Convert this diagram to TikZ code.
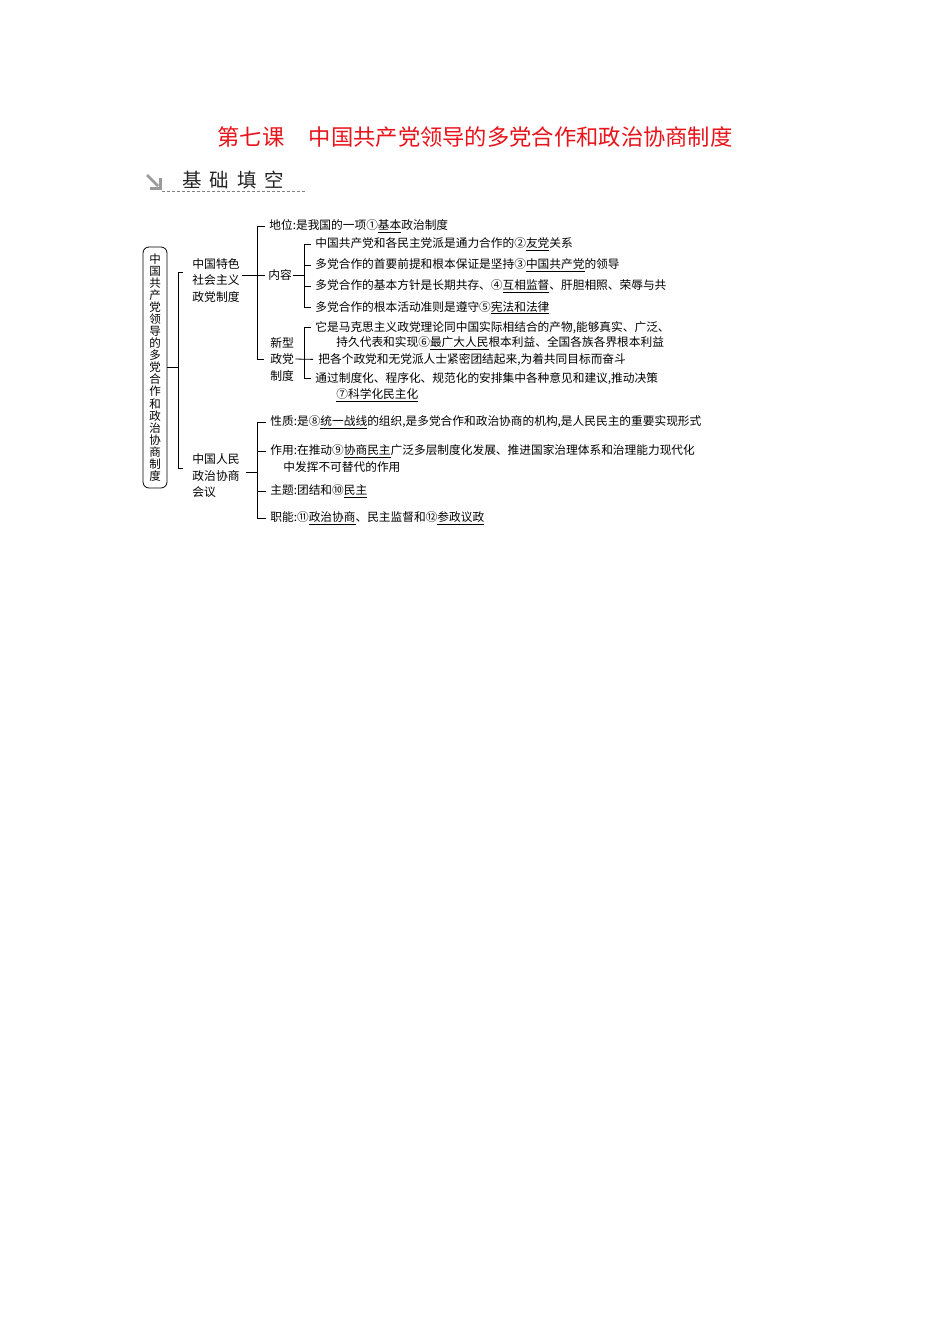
\documentclass[tikz,border=0pt]{standalone}
\usepackage{fontspec}
\setmainfont{Noto Sans CJK SC}
\definecolor{titlered}{HTML}{E8141B}
\definecolor{icongray}{HTML}{9A9A9A}
\newcommand{\uln}[1]{\underline{#1}}
\begin{document}
\begin{tikzpicture}[x=1pt,y=-1pt, line width=0.8pt,
  txt/.style={anchor=west, inner sep=0pt, yshift=-1.5pt, font=\fontsize{11.7}{14}\selectfont},
  blk/.style={anchor=west, inner sep=0pt, yshift=-1pt, align=left, font=\fontsize{11.8}{16.5}\selectfont}]
\useasboundingbox (0,0) rectangle (950,1344);
\fill[white] (0,0) rectangle (950,1344);

% title
\node[inner sep=0pt, text=titlered, font=\fontsize{22.3}{26}\selectfont] (title) at (475,137)
  {第七课\hspace{1.1em}中国共产党领导的多党合作和政治协商制度};

% heading
\node[anchor=west, inner sep=0pt, text=black!85, font=\fontsize{19.5}{22}\selectfont] (head) at (182,180)
  {基\hspace{8pt}础\hspace{8pt}填\hspace{8pt}空};
\draw[icongray, line width=2.6pt] (147,175) -- (158,186);
\draw[icongray, line width=2.6pt] (150,188.5) -- (160.5,188.5) -- (160.5,178);
\draw[gray, line width=0.6pt, dash pattern=on 3pt off 2pt] (162,191) -- (306,191);

% root
\node[draw, rounded corners=6pt, minimum width=24pt, minimum height=241pt, inner sep=0pt,
  align=center, font=\fontsize{11.5}{12.06}\selectfont] (root) at (155,367.5)
  {中\\国\\共\\产\\党\\领\\导\\的\\多\\党\\合\\作\\和\\政\\治\\协\\商\\制\\度};

% level 1
\node[blk] (n1) at (192,279.5) {中国特色\\社会主义\\政党制度};
\node[blk] (n2) at (192,475) {中国人民\\政治协商\\会议};
\coordinate (v1) at (178,0);
\draw (root.east) -- (root.east -| v1);
\draw (183,272) -- (178,272) -- (178,468) -- (183,468);

% level 2 (party system)
\node[txt] (dw) at (269,225) {地位:是我国的一项①\uln{基本}政治制度};
\node[txt] (nr) at (268,274) {内容};
\node[blk] (n3) at (270,358) {新型\\政党\\制度};
\draw ([xshift=-4pt]dw.west) -- ++(-8,0) |- ([xshift=-6pt]n3.west);
\draw[shorten <=2pt, shorten >=3pt] (n1.east |- nr.west) -- (nr.west);

% content items
\node[txt] (c1) at (315,243) {中国共产党和各民主党派是通力合作的②\uln{友党}关系};
\node[txt] (c2) at (315,264) {多党合作的首要前提和根本保证是坚持③\uln{中国共产党}的领导};
\node[txt] (c3) at (315,285) {多党合作的基本方针是长期共存、④\uln{互相监督}、肝胆相照、荣辱与共};
\node[txt] (c4) at (315,306) {多党合作的根本活动准则是遵守⑤\uln{宪法和法律}};
\coordinate (v2) at (304,0);
\draw ([xshift=-4pt]c1.west) -- (c1.west -| v2) -- (c4.west -| v2) -- ([xshift=-4pt]c4.west);
\draw ([xshift=-4pt]c2.west) -- (c2.west -| v2);
\draw ([xshift=-4pt]c3.west) -- (c3.west -| v2);
\draw[shorten <=1pt] (nr.east) -- (nr.east -| v2);

% new type items
\node[txt] (d1) at (315,326) {它是马克思主义政党理论同中国实际相结合的产物,能够真实、广泛、};
\node[txt] (d2) at (336,342) {持久代表和实现⑥\uln{最广大人民}根本利益、全国各族各界根本利益};
\node[txt] (d3) at (318,358) {把各个政党和无党派人士紧密团结起来,为着共同目标而奋斗};
\node[txt] (d4) at (315,377) {通过制度化、程序化、规范化的安排集中各种意见和建议,推动决策};
\node[txt] (d5) at (336,394) {\uln{⑦科学化民主化}};
\draw ([xshift=-4pt]d1.west) -- (d1.west -| v2) -- (d4.west -| v2) -- ([xshift=-4pt]d4.west);
\draw[shorten <=1pt, shorten >=5pt] (n3.east) -- (d3.west);

% CPPCC items
\node[txt] (e1) at (270,421) {性质:是⑧\uln{统一战线}的组织,是多党合作和政治协商的机构,是人民民主的重要实现形式};
\node[txt] (e2) at (270,450) {作用:在推动⑨\uln{协商民主}广泛多层制度化发展、推进国家治理体系和治理能力现代化};
\node[txt] (e3) at (283,466) {中发挥不可替代的作用};
\node[txt] (e4) at (270,490) {主题:团结和⑩\uln{民主}};
\node[txt] (e5) at (270,517) {职能:⑪\uln{政治协商}、民主监督和⑫\uln{参政议政}};
\coordinate (v3) at (257,0);
\draw ([xshift=-4pt]e1.west) -- (e1.west -| v3) -- (e5.west -| v3) -- ([xshift=-4pt]e5.west);
\draw ([xshift=-4pt]e2.west) -- (e2.west -| v3);
\draw ([xshift=-4pt]e4.west) -- (e4.west -| v3);
\draw ([xshift=6pt,yshift=4pt]n2.east) -- ([yshift=4pt]n2.east -| v3);
\end{tikzpicture}
\end{document}
